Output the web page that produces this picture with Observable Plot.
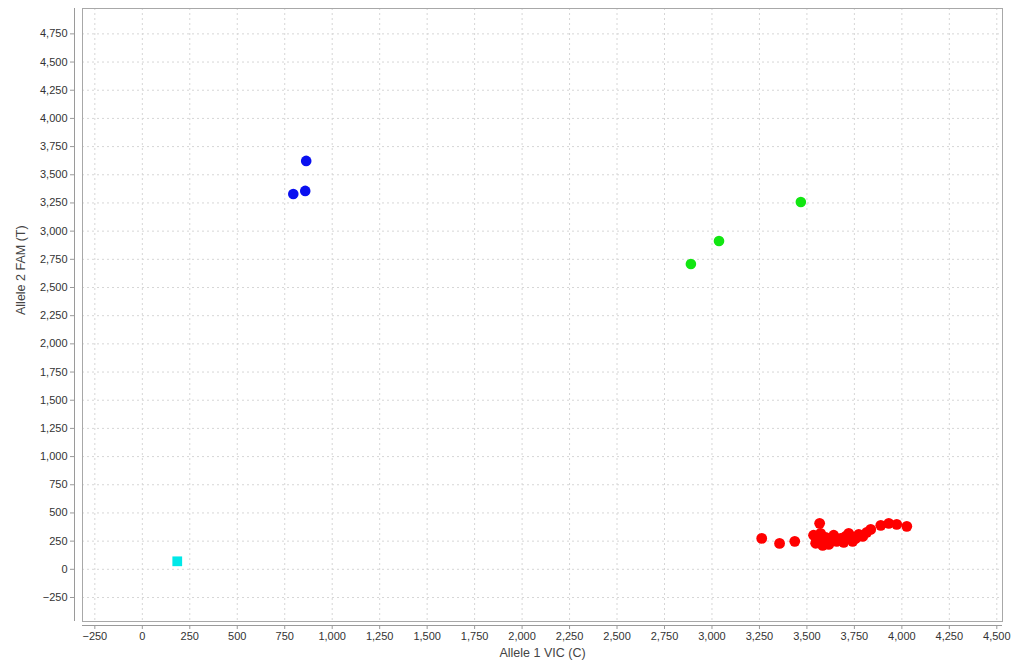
<!DOCTYPE html>
<html>
<head>
<meta charset="utf-8">
<script src="https://cdn.jsdelivr.net/npm/d3@7"></script>
<script src="https://cdn.jsdelivr.net/npm/@observablehq/plot@0.6"></script>
<style>
  html, body { margin: 0; padding: 0; background: #fff; }
</style>
</head>
<body>
<div id="chart"></div>
<script>
// Axis ticks
const xTicks = [-250,0,250,500,750,1000,1250,1500,1750,2000,2250,2500,2750,3000,3250,3500,3750,4000,4250,4500];
const yTicks = [-250,0,250,500,750,1000,1250,1500,1750,2000,2250,2500,2750,3000,3250,3500,3750,4000,4250,4500,4750];
const xDomain = [-315, 4530];
const yDomain = [-463, 4975];

// Allele 2 homozygous (blue)
const blueX = [863, 795, 858];
const blueY = [3623, 3330, 3357];

// Heterozygous (green)
const greenX = [2889, 3037, 3468];
const greenY = [2709, 2913, 3259];

// No template control (cyan)
const ntcX = [184];
const ntcY = [71];

// Allele 1 homozygous (red)
const redX = [3262, 3356, 3436, 3567, 3535, 3546, 3562, 3583, 3599, 3625, 3641, 3657, 3678, 3704, 3720, 3741, 3757, 3773, 3794, 3815, 3836, 3889, 3931, 3973, 4026, 3551, 3572, 3615, 3694, 3731];
const redY = [274, 230, 248, 408, 302, 231, 274, 212, 283, 257, 302, 248, 274, 292, 319, 248, 274, 310, 292, 328, 354, 390, 408, 399, 381, 257, 319, 221, 239, 292];

const zip = (xs, ys) => xs.map((x, i) => ({x, y: ys[i]}));
const red = zip(redX, redY), blue = zip(blueX, blueY), green = zip(greenX, greenY), ntc = zip(ntcX, ntcY);

const fmt = d3.format(",");
const gridStyle = {stroke: "#d6d6d6", strokeOpacity: 1, strokeDasharray: "2,3"};

const chart = Plot.plot({
  width: 1020,
  height: 666,
  marginLeft: 82,
  marginRight: 18,
  marginTop: 8,
  marginBottom: 45,
  style: {fontFamily: "'Liberation Sans', Arial, sans-serif", fontSize: "11px", background: "#fff", color: "#333"},
  x: {domain: xDomain},
  y: {domain: yDomain},
  marks: [
    Plot.gridX(xTicks, gridStyle),
    Plot.gridY(yTicks, gridStyle),
    Plot.frame({stroke: "#a8a8a8"}),
    Plot.ruleY([yDomain[0]], {dy: 4, stroke: "#9a9a9a"}),
    Plot.ruleX([xDomain[0]], {dx: -8, stroke: "#9a9a9a"}),
    Plot.axisX(xTicks, {tickFormat: fmt, tickSize: 4, tickPadding: 3, dy: 4, label: null, stroke: "#9a9a9a", fill: "#333"}),
    Plot.axisY(yTicks, {tickFormat: fmt, tickSize: 4, tickPadding: 3, dx: -8, label: null, stroke: "#9a9a9a", fill: "#333"}),
    Plot.text(["Allele 1 VIC (C)"], {frameAnchor: "bottom", dy: 35, fontSize: 12.5, fill: "#444"}),
    Plot.text(["Allele 2 FAM (T)"], {frameAnchor: "left", dx: -62, rotate: -90, fontSize: 12.5, fill: "#444"}),
    Plot.dot(red, {x: "x", y: "y", r: 5.4, fill: "#ff0000"}),
    Plot.dot(blue, {x: "x", y: "y", r: 5.3, fill: "#0a10f0"}),
    Plot.dot(green, {x: "x", y: "y", r: 5.3, fill: "#12e612"}),
    Plot.dot(ntc, {x: "x", y: "y", r: 5.5, symbol: "square", fill: "#00e8e8"})
  ]
});
document.getElementById("chart").appendChild(chart);
</script>
</body>
</html>
